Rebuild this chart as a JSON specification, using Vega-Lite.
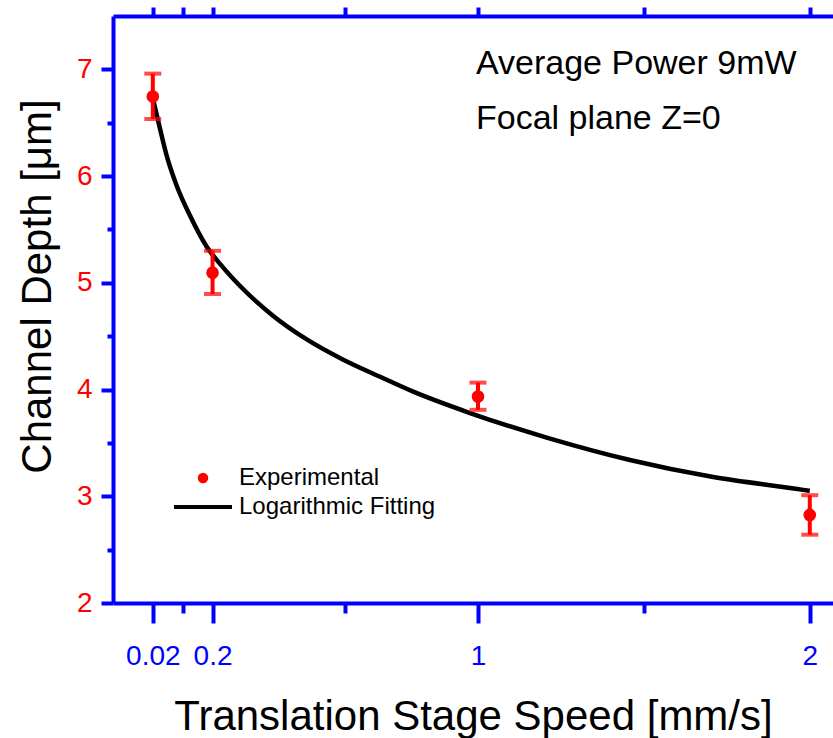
{
  "$schema": "https://vega.github.io/schema/vega-lite/v6.json",
  "width": 720,
  "height": 587,
  "autosize": "none",
  "padding": {"left": 113, "top": 16, "right": 0, "bottom": 135},
  "background": "white",
  "config": {"font": "Liberation Sans", "view": {"stroke": null}},
  "datasets": {
    "exp": [
      {"speed": 0.02, "depth": 6.745, "lo": 6.535, "hi": 6.96, "series": "Experimental"},
      {"speed": 0.2, "depth": 5.095, "lo": 4.895, "hi": 5.3, "series": "Experimental"},
      {"speed": 1, "depth": 3.935, "lo": 3.81, "hi": 4.065, "series": "Experimental"},
      {"speed": 2, "depth": 2.825, "lo": 2.64, "hi": 3.01, "series": "Experimental"}
    ],
    "fit": [
      {"speed": 0.02, "depth": 6.73, "series": "Logarithmic Fitting"},
      {"speed": 0.042, "depth": 6.44, "series": "Logarithmic Fitting"},
      {"speed": 0.062, "depth": 6.19, "series": "Logarithmic Fitting"},
      {"speed": 0.092, "depth": 5.91, "series": "Logarithmic Fitting"},
      {"speed": 0.132, "depth": 5.63, "series": "Logarithmic Fitting"},
      {"speed": 0.182, "depth": 5.34, "series": "Logarithmic Fitting"},
      {"speed": 0.222, "depth": 5.18, "series": "Logarithmic Fitting"},
      {"speed": 0.283, "depth": 4.97, "series": "Logarithmic Fitting"},
      {"speed": 0.383, "depth": 4.69, "series": "Logarithmic Fitting"},
      {"speed": 0.484, "depth": 4.47, "series": "Logarithmic Fitting"},
      {"speed": 0.594, "depth": 4.28, "series": "Logarithmic Fitting"},
      {"speed": 0.705, "depth": 4.12, "series": "Logarithmic Fitting"},
      {"speed": 0.805, "depth": 3.98, "series": "Logarithmic Fitting"},
      {"speed": 0.976, "depth": 3.78, "series": "Logarithmic Fitting"},
      {"speed": 1.207, "depth": 3.55, "series": "Logarithmic Fitting"},
      {"speed": 1.458, "depth": 3.34, "series": "Logarithmic Fitting"},
      {"speed": 1.709, "depth": 3.18, "series": "Logarithmic Fitting"},
      {"speed": 1.98, "depth": 3.06, "series": "Logarithmic Fitting"},
      {"speed": 2.0, "depth": 3.05, "series": "Logarithmic Fitting"}
    ],
    "notes": [
      {"speed": 0.994, "depth": 6.953, "text": "Average Power 9mW"},
      {"speed": 0.994, "depth": 6.438, "text": "Focal plane Z=0"}
    ]
  },
  "encoding": {
    "y": {
      "field": "depth", "type": "quantitative",
      "scale": {"domain": [2, 7.5], "nice": false, "zero": false},
      "axis": {
        "orient": "left",
        "values": [2, 2.5, 3, 3.5, 4, 4.5, 5, 5.5, 6, 6.5, 7],
        "labelExpr": "datum.value % 1 == 0 ? format(datum.value, 'd') : ''",
        "grid": false,
        "domainColor": "#0000ff", "domainWidth": 4,
        "tickColor": "#0000ff", "tickWidth": 4,
        "tickSize": {"condition": {"test": "datum.value % 1 != 0", "value": 6}, "value": 12},
        "labelColor": "#ff0000", "labelFontSize": 28, "labelPadding": 9,
        "labelFlush": false, "labelOverlap": false,
        "title": "Channel Depth [μm]",
        "titleFontSize": 42, "titleFontWeight": "normal", "titleColor": "#000000", "titlePadding": 17,
        "titleY": 270
      }
    }
  },
  "layer": [
    {
      "data": {"name": "fit"},
      "mark": {"type": "line", "strokeWidth": 4.5, "interpolate": "monotone"},
      "encoding": {
        "x": {
          "field": "speed", "type": "quantitative",
          "scale": {"domain": [-0.1, 2.07], "nice": false, "zero": false},
          "axis": {
            "orient": "bottom",
            "values": [0.02, 0.11, 0.2, 0.6, 1, 1.5, 2],
            "labelExpr": "datum.value == 0.02 ? '0.02' : datum.value == 0.2 ? '0.2' : datum.value == 1 ? '1' : datum.value == 2 ? '2' : ''",
            "grid": false,
            "domainColor": "#0000ff", "domainWidth": 4,
            "tickColor": "#0000ff", "tickWidth": 4,
            "tickSize": {"condition": {"test": "datum.value == 0.11 || datum.value == 0.6 || datum.value == 1.5", "value": 10}, "value": 20},
            "labelColor": "#0000ff", "labelFontSize": 28, "labelPadding": 19,
            "labelFlush": false, "labelOverlap": false,
            "title": "Translation Stage Speed [mm/s]",
            "titleFontSize": 42, "titleFontWeight": "normal", "titleColor": "#000000", "titlePadding": 26
          }
        },
        "color": {
          "field": "series", "type": "nominal",
          "scale": {"domain": ["Experimental", "Logarithmic Fitting"], "range": ["#ff0000", "#000000"]},
          "legend": {
            "orient": "none", "legendX": 78, "legendY": 450,
            "title": null, "direction": "vertical",
            "labelFontSize": 24, "labelColor": "#000000", "labelFont": "Liberation Sans", "labelLimit": 0,
            "symbolSize": 3364, "labelOffset": 24, "rowPadding": 5,
            "encode": {
              "symbols": {
                "update": {
                  "shape": {"signal": "datum.value === 'Experimental' ? 'circle' : 'stroke'"},
                  "size": {"signal": "datum.value === 'Experimental' ? 110 : 3364"},
                  "fill": {"signal": "datum.value === 'Experimental' ? '#ff0000' : 'transparent'"},
                  "stroke": {"signal": "datum.value === 'Experimental' ? '#ff0000' : '#000000'"},
                  "strokeWidth": {"signal": "datum.value === 'Experimental' ? 0 : 4"},
                  "opacity": {"value": 1}
                }
              }
            }
          }
        }
      }
    },
    {
      "data": {"name": "exp"},
      "mark": {"type": "rule", "color": "#ff0000", "strokeWidth": 4},
      "encoding": {
        "x": {
          "field": "speed", "type": "quantitative",
          "axis": {
            "orient": "top",
            "values": [0.02, 0.11, 0.2, 0.6, 1, 1.5, 2],
            "labels": false, "grid": false, "title": null,
            "domainColor": "#0000ff", "domainWidth": 4,
            "tickColor": "#0000ff", "tickWidth": 4, "tickSize": 9,
            "encode": {"ticks": {"update": {"y2": {"signal": "datum.value == 0.11 || datum.value == 0.6 || datum.value == 1.5 ? 5 : 9"}}}}
          }
        },
        "y": {"field": "lo"},
        "y2": {"field": "hi"}
      }
    },
    {
      "data": {"name": "exp"},
      "mark": {"type": "tick", "orient": "horizontal", "color": "#ff0000", "size": 17, "thickness": 4},
      "encoding": {
        "x": {"field": "speed", "type": "quantitative", "axis": null},
        "y": {"field": "lo"}
      }
    },
    {
      "data": {"name": "exp"},
      "mark": {"type": "tick", "orient": "horizontal", "color": "#ff0000", "size": 17, "thickness": 4},
      "encoding": {
        "x": {"field": "speed", "type": "quantitative", "axis": null},
        "y": {"field": "hi"}
      }
    },
    {
      "data": {"name": "exp"},
      "mark": {"type": "point", "filled": true, "size": 160, "opacity": 1},
      "encoding": {
        "x": {"field": "speed", "type": "quantitative", "axis": null},
        "color": {"field": "series", "type": "nominal"}
      }
    },
    {
      "data": {"name": "notes"},
      "mark": {"type": "text", "align": "left", "baseline": "alphabetic", "fontSize": 34, "color": "#000000", "font": "Liberation Sans"},
      "encoding": {
        "x": {"field": "speed", "type": "quantitative", "axis": null},
        "text": {"field": "text"}
      }
    }
  ]
}
